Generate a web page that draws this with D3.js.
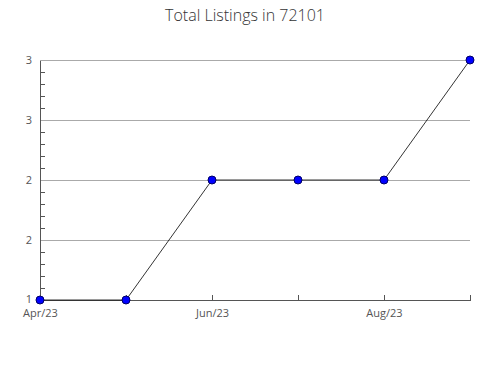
<!DOCTYPE html>
<html><head><meta charset="utf-8">
<script src="https://cdn.jsdelivr.net/npm/d3@7"></script>
<style>body{margin:0;background:#fff}svg{display:block}text{font-family:"Open Sans",sans-serif}</style>
</head><body>
<svg id="c" width="490" height="380"></svg>
<script>
const months = ["Apr/23","May/23","Jun/23","Jul/23","Aug/23","Sep/23"];
const values = [1,1,2,2,2,3];
const xLabels = ["Apr/23","Jun/23","Aug/23"];
const yTicks = [1,1.5,2,2.5,3];
const title = "Total Listings in 72101";

const svg = d3.select("#c");
const m = {l:40, r:470, t:60, b:300};
const x = d3.scalePoint().domain(months).range([m.l, m.r]);
const y = d3.scaleLinear().domain([1,3]).range([m.b, m.t]);

svg.append("text").attr("x",245).attr("y",21).attr("text-anchor","middle")
  .attr("font-size",16).attr("font-weight",300).attr("fill","#333").text(title);

// gridlines
svg.append("g").selectAll("line").data(yTicks.slice(1)).join("line")
  .attr("x1",m.l).attr("x2",m.r).attr("y1",d=>y(d)).attr("y2",d=>y(d))
  .attr("stroke","#aaa").attr("stroke-width",1).attr("shape-rendering","crispEdges");

// minor y ticks
const minor = d3.range(1,3,0.1).filter(v=>Math.abs(v*2-Math.round(v*2))>1e-6);
svg.append("g").selectAll("line").data(minor).join("line")
  .attr("x1",m.l).attr("x2",m.l+5).attr("y1",d=>Math.round(y(d))).attr("y2",d=>Math.round(y(d)))
  .attr("stroke","#555").attr("shape-rendering","crispEdges");

// y axis
const ya = d3.axisLeft(y).tickValues(yTicks).tickFormat(d3.format(".0f")).tickSize(0).tickPadding(8);
const gy = svg.append("g").attr("transform",`translate(${m.l},0)`).call(ya);
gy.select(".domain").attr("stroke","#555").attr("shape-rendering","crispEdges");
gy.selectAll("text").attr("font-size",11).attr("fill","#555").attr("font-family","Open Sans, sans-serif");
gy.selectAll(".tick").filter(d=>d===1).select("text").attr("dy","0.2em");

// x axis
const xa = d3.axisBottom(x).tickSize(-5).tickSizeOuter(0).tickPadding(9)
  .tickFormat(d=>xLabels.includes(d)?d:"");
const gx = svg.append("g").attr("transform",`translate(0,${m.b})`).call(xa);
gx.select(".domain").attr("stroke","#555").attr("shape-rendering","crispEdges");
gx.selectAll(".tick line").attr("stroke","#555").attr("shape-rendering","crispEdges");
gx.selectAll("text").attr("font-size",11).attr("fill","#555").attr("font-family","Open Sans, sans-serif");

const data = months.map((mo,i)=>({mo, v:values[i]}));
svg.append("path").datum(data)
  .attr("d", d3.line().x(d=>x(d.mo)).y(d=>y(d.v)))
  .attr("fill","none").attr("stroke","#000").attr("stroke-width",0.8);

svg.append("g").selectAll("circle").data(data).join("circle")
  .attr("cx",d=>x(d.mo)).attr("cy",d=>y(d.v)).attr("r",4)
  .attr("fill","#0000ff").attr("stroke","#000066").attr("stroke-width",1);
</script>
</body></html>
